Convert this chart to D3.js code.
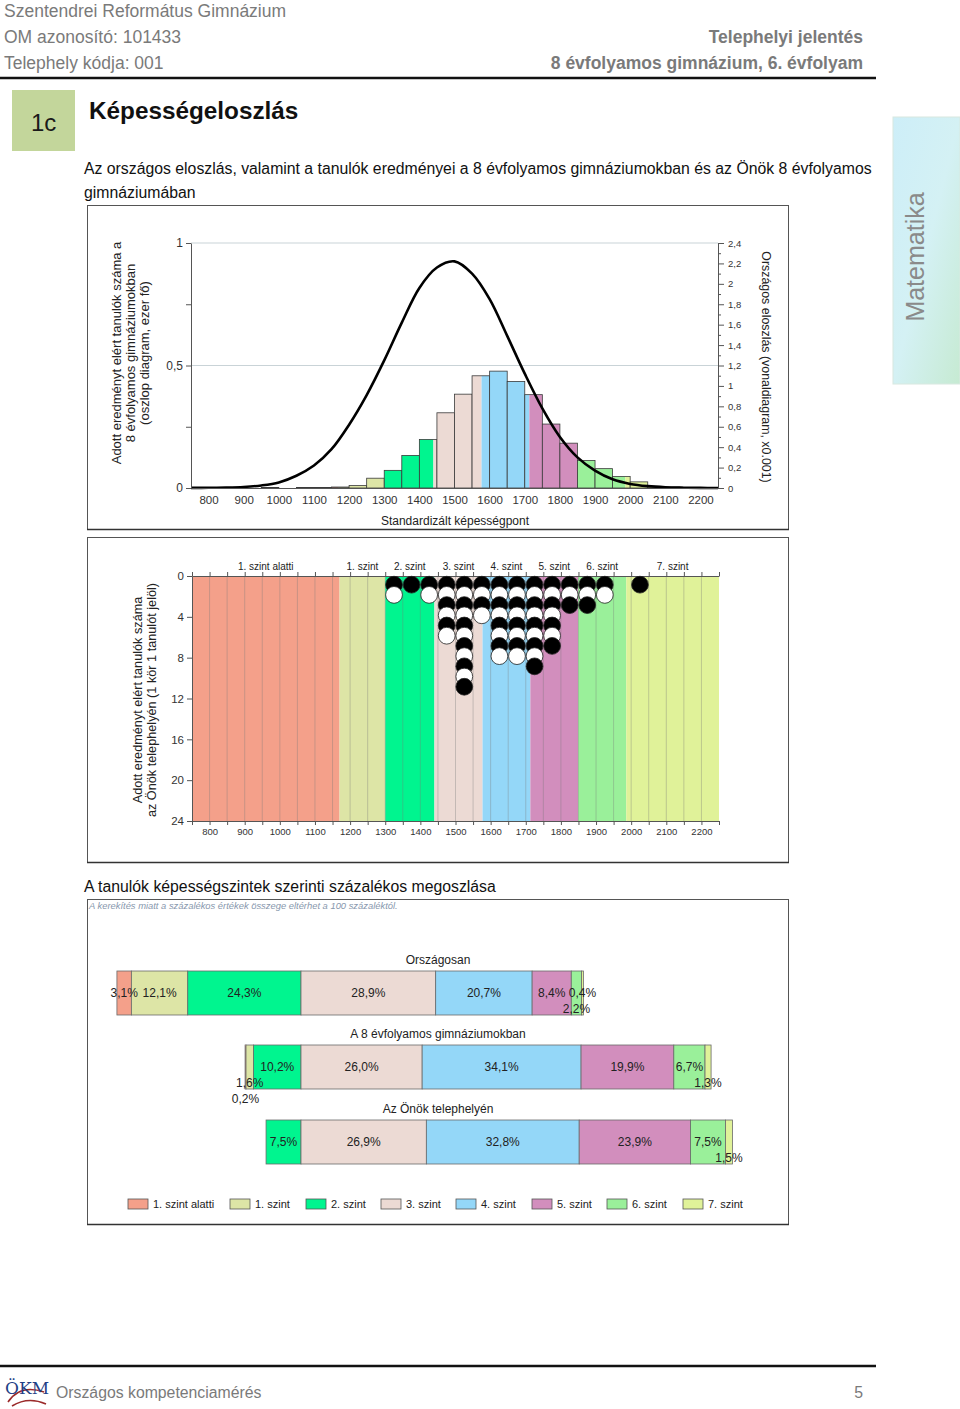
<!DOCTYPE html>
<head>
<meta charset="utf-8">
<style>
  body { margin: 0; background: #fff; }
  svg { display: block; font-family: "Liberation Sans", Arial, sans-serif; }
  .hdr { fill: #7a7a7a; font-size: 17.5px; }
  .hdr-b { fill: #7a7a7a; font-size: 17.5px; font-weight: bold; }
  .frame { fill: none; stroke: #555; stroke-width: 1; }
  .axis text { fill: #333; font-family: "Liberation Sans", Arial, sans-serif; }
  .axis path, .axis line { stroke: #555; }
  .title { fill: #222; font-size: 12px; }
</style>
<script src="https://d3js.org/d3.v7.min.js"></script>
</head>
<body>
<script>
// képességszintek
var levelNames = ["1. szint alatti", "1. szint", "2. szint", "3. szint", "4. szint", "5. szint", "6. szint", "7. szint"];
var levelColors = ["#f4a08a", "#dde5a6", "#00f58f", "#ecdad4", "#94d7f8", "#d28ebd", "#9af09a", "#e0f299"];
var levelBounds = [1170, 1300, 1440, 1577, 1713, 1849, 1986];

// 8 évfolyamos gimnáziumok (oszlop, ezer fő), 50 pontos sávok kezdete
var histStart = [800, 850, 900, 950, 1000, 1050, 1100, 1150, 1200, 1250, 1300, 1350, 1400, 1450,
                 1500, 1550, 1600, 1650, 1700, 1750, 1800, 1850, 1900, 1950, 2000, 2050, 2100, 2150];
var histValue = [0.002, 0, 0, 0.002, 0, 0.002, 0.002, 0.004, 0.01, 0.04, 0.072, 0.133, 0.198, 0.307,
                 0.383, 0.458, 0.477, 0.435, 0.381, 0.261, 0.183, 0.112, 0.079, 0.047, 0.025, 0.005, 0.004, 0.001];

// országos eloszlás (vonal, x0.001)
var curveX = [750, 800, 850, 900, 950, 1000, 1050, 1100, 1150, 1200, 1250, 1300, 1350, 1400, 1450, 1500,
              1550, 1600, 1650, 1700, 1750, 1800, 1850, 1900, 1950, 2000, 2050, 2100, 2150, 2200, 2250];
var curveY = [0.001, 0.002, 0.004, 0.01, 0.025, 0.055, 0.12, 0.22, 0.38, 0.62, 0.91, 1.25, 1.62, 1.96, 2.16, 2.22,
              2.10, 1.85, 1.49, 1.12, 0.78, 0.50, 0.30, 0.17, 0.085, 0.04, 0.018, 0.007, 0.003, 0.001, 0.0005];

// telephely tanulói (1 kör = 1 tanuló)
var dotBinStart = [1300, 1350, 1400, 1450, 1500, 1550, 1600, 1650, 1700, 1750, 1800, 1850, 1900, 1950, 2000];
var dotCount = [2, 1, 2, 6, 11, 4, 8, 8, 9, 7, 3, 3, 2, 0, 1];

// százalékos megoszlás
var groupNames = ["Országosan", "A 8 évfolyamos gimnáziumokban", "Az Önök telephelyén"];
var pctOrszagos = [3.1, 12.1, 24.3, 28.9, 20.7, 8.4, 2.2, 0.4];
var pctGimn = [0.2, 1.6, 10.2, 26.0, 34.1, 19.9, 6.7, 1.3];
var pctOnok = [0, 0, 7.5, 26.9, 32.8, 23.9, 7.5, 1.5];

var fmt = function(v) { return String(+v.toFixed(1)).replace(".", ","); };

var svg = d3.select("body").append("svg").attr("width", 960).attr("height", 1409);

// ---- fejléc
svg.append("text").attr("class", "hdr").attr("x", 4).attr("y", 17).text("Szentendrei Református Gimnázium");
svg.append("text").attr("class", "hdr").attr("x", 4).attr("y", 43).text("OM azonosító: 101433");
svg.append("text").attr("class", "hdr").attr("x", 4).attr("y", 69).text("Telephely kódja: 001");
svg.append("text").attr("class", "hdr-b").attr("x", 863).attr("y", 43).attr("text-anchor", "end").text("Telephelyi jelentés");
svg.append("text").attr("class", "hdr-b").attr("x", 863).attr("y", 69).attr("text-anchor", "end").text("8 évfolyamos gimnázium, 6. évfolyam");
svg.append("line").attr("x1", 0).attr("x2", 876).attr("y1", 78).attr("y2", 78).attr("stroke", "#111").attr("stroke-width", 2.5);

svg.append("rect").attr("x", 12).attr("y", 90).attr("width", 63).attr("height", 61).attr("fill", "#c3d69b");
svg.append("text").attr("x", 31).attr("y", 131).attr("font-size", 24).attr("fill", "#1a1a1a").text("1c");
svg.append("text").attr("x", 89).attr("y", 119).attr("font-size", 24.3).attr("font-weight", "bold").attr("fill", "#111").text("Képességeloszlás");

svg.append("text").attr("x", 84).attr("y", 174).attr("font-size", 15.8).attr("fill", "#111")
  .text("Az országos eloszlás, valamint a tanulók eredményei a 8 évfolyamos gimnáziumokban és az Önök 8 évfolyamos");
svg.append("text").attr("x", 84).attr("y", 198).attr("font-size", 15.8).attr("fill", "#111").text("gimnáziumában");

// oldalsó fül
var defs = svg.append("defs");
var grad = defs.append("linearGradient").attr("id", "tab").attr("x1", 0).attr("y1", 0).attr("x2", 1).attr("y2", 1);
grad.append("stop").attr("offset", "0%").attr("stop-color", "#cdeef8");
grad.append("stop").attr("offset", "50%").attr("stop-color", "#d4f1f4");
grad.append("stop").attr("offset", "100%").attr("stop-color", "#c6ead2");
svg.append("rect").attr("x", 893).attr("y", 117).attr("width", 67).attr("height", 267)
  .attr("fill", "url(#tab)").attr("stroke", "#d8e8e0");
svg.append("text").attr("transform", "translate(924,257) rotate(-90)").attr("text-anchor", "middle")
  .attr("font-size", 25).attr("fill", "#8a8a8a").text("Matematika");

function levelOf(v) {
  var i = 0;
  while (i < levelBounds.length && v >= levelBounds[i]) i++;
  return i;
}
function levelPieces(a, b) {
  var cuts = [a].concat(levelBounds.filter(function(t) { return t > a && t < b; }), [b]);
  return d3.pairs(cuts).map(function(p) { return { x0: p[0], x1: p[1], lvl: levelOf((p[0] + p[1]) / 2) }; });
}

// ---- 1. diagram: hisztogram + országos görbe
var x1 = d3.scaleLinear().domain([750, 2250]).range([191, 718]);
var yL = d3.scaleLinear().domain([0, 1]).range([488, 243]);
var yR = d3.scaleLinear().domain([0, 2.4]).range([488, 243]);
var c1 = svg.append("g");
c1.append("rect").attr("class", "frame").attr("x", 87.5).attr("y", 205.5).attr("width", 701).attr("height", 324);
c1.append("line").attr("x1", 87).attr("x2", 789).attr("y1", 529.5).attr("y2", 529.5).attr("stroke", "#333").attr("stroke-width", 1.5);

c1.selectAll(".grid").data([0.5, 1]).enter().append("line")
  .attr("x1", x1(750)).attr("x2", x1(2250))
  .attr("y1", function(d) { return yL(d); }).attr("y2", function(d) { return yL(d); })
  .attr("stroke", "#c9d3d7");

var bins = histStart.map(function(s, i) { return { s: s, v: histValue[i] }; }).filter(function(d) { return d.v > 0; });
var binG = c1.selectAll(".bin").data(bins).enter().append("g");
binG.each(function(d) {
  var g = d3.select(this);
  levelPieces(d.s, d.s + 50).forEach(function(p) {
    g.append("rect").attr("x", x1(p.x0)).attr("width", x1(p.x1) - x1(p.x0))
      .attr("y", yL(d.v)).attr("height", yL(0) - yL(d.v)).attr("fill", levelColors[p.lvl]);
  });
  g.append("rect").attr("x", x1(d.s)).attr("width", x1(d.s + 50) - x1(d.s))
    .attr("y", yL(d.v)).attr("height", yL(0) - yL(d.v))
    .attr("fill", "none").attr("stroke", "#3a3a3a").attr("stroke-width", 0.8);
});

var line = d3.line()
  .x(function(d, i) { return x1(curveX[i]); })
  .y(function(d) { return yR(d); })
  .curve(d3.curveCatmullRom);
c1.append("path").attr("d", line(curveY)).attr("fill", "none").attr("stroke", "#000").attr("stroke-width", 2.6);

c1.append("g").attr("class", "axis").attr("transform", "translate(0,488)")
  .call(d3.axisBottom(x1).tickValues(d3.range(800, 2201, 100)).tickSize(0).tickSizeOuter(0).tickPadding(8).tickFormat(d3.format("d")))
  .attr("font-size", 11.5)
  .select(".domain").attr("stroke", "#333");

c1.append("g").attr("class", "axis").attr("transform", "translate(191,0)")
  .call(d3.axisLeft(yL).tickValues([0, 0.25, 0.5, 0.75, 1]).tickSize(5).tickSizeOuter(0).tickPadding(3)
    .tickFormat(function(d) { return (d === 0.25 || d === 0.75) ? "" : fmt(d); }))
  .attr("font-size", 12)
  .select(".domain").attr("stroke", "#aaa");

var rAxis = c1.append("g").attr("class", "axis").attr("transform", "translate(718,0)")
  .call(d3.axisRight(yR).tickValues(d3.range(0, 25).map(function(i) { return i / 10; }))
    .tickSize(6).tickSizeOuter(0).tickPadding(4)
    .tickFormat(function(d) { return Math.round(d * 10) % 2 === 0 ? fmt(d) : ""; }))
  .attr("font-size", 9.5);
rAxis.selectAll(".tick line").attr("x2", function(d) { return Math.round(d * 10) % 2 === 0 ? 6 : 3; });
rAxis.selectAll(".tick text").attr("fill", "#555");

c1.append("text").attr("class", "title").style("font-size", "13px").attr("transform", "translate(121,353) rotate(-90)").attr("text-anchor", "middle")
  .selectAll("tspan").data(["Adott eredményt elért tanulók száma a", "8 évfolyamos gimnáziumokban", "(oszlop diagram, ezer fő)"])
  .enter().append("tspan").attr("x", 0).attr("y", function(d, i) { return i * 14; }).text(function(d) { return d; });
c1.append("text").attr("class", "title").style("font-size", "12.4px").attr("transform", "translate(762,367) rotate(90)").attr("text-anchor", "middle")
  .text("Országos eloszlás (vonaldiagram, x0.001)");
c1.append("text").attr("class", "title").attr("x", 455).attr("y", 525).attr("text-anchor", "middle")
  .text("Standardizált képességpont");

// ---- 2. diagram: telephely tanulói
var x2 = d3.scaleLinear().domain([750, 2250]).range([192, 719]);
var y2 = d3.scaleLinear().domain([0, 24]).range([576, 821]);
var c2 = svg.append("g");
c2.append("rect").attr("class", "frame").attr("x", 87.5).attr("y", 537.5).attr("width", 701).attr("height", 325);
c2.append("line").attr("x1", 87).attr("x2", 789).attr("y1", 862.5).attr("y2", 862.5).attr("stroke", "#333").attr("stroke-width", 1.5);

var bands = levelPieces(750, 2250);
c2.selectAll(".band").data(bands).enter().append("rect")
  .attr("x", function(d) { return x2(d.x0); }).attr("width", function(d) { return x2(d.x1) - x2(d.x0); })
  .attr("y", y2(0)).attr("height", y2(24) - y2(0))
  .attr("fill", function(d) { return levelColors[d.lvl]; });
c2.selectAll(".vgrid").data(d3.range(800, 2250, 50)).enter().append("line")
  .attr("x1", function(d) { return x2(d); }).attr("x2", function(d) { return x2(d); })
  .attr("y1", y2(0)).attr("y2", y2(24)).attr("stroke", "#777").attr("stroke-opacity", 0.35);

c2.selectAll(".lvl").data(bands).enter().append("text")
  .attr("x", function(d) { return x2((d.x0 + d.x1) / 2); }).attr("y", 570)
  .attr("text-anchor", "middle").attr("font-size", 10).attr("fill", "#222")
  .text(function(d) { return levelNames[d.lvl]; });

c2.append("g").attr("class", "axis").attr("transform", "translate(0,576)")
  .call(d3.axisTop(x2).tickValues(d3.range(750, 2251, 50)).tickSize(4).tickSizeOuter(0).tickFormat(""))
  .select(".domain").attr("stroke", "#222");
c2.append("g").attr("class", "axis").attr("transform", "translate(0,821)")
  .call(d3.axisBottom(x2).tickValues(d3.range(750, 2251, 50)).tickSize(4).tickSizeOuter(0).tickPadding(3)
    .tickFormat(function(d) { return (d % 100 === 0 && d >= 800 && d <= 2200) ? d : ""; }))
  .attr("font-size", 9.5);
c2.append("g").attr("class", "axis").attr("transform", "translate(192,0)")
  .call(d3.axisLeft(y2).tickValues(d3.range(0, 25, 4)).tickSize(5).tickSizeOuter(0).tickPadding(3))
  .attr("font-size", 11.5);

var dots = [];
dotBinStart.forEach(function(s, i) {
  for (var k = 1; k <= dotCount[i]; k++) dots.push({ x: s + 25, n: k });
});
c2.selectAll(".dot").data(dots).enter().append("circle")
  .attr("cx", function(d) { return x2(d.x); })
  .attr("cy", function(d) { return y2(d.n - 0.15); })
  .attr("r", 8.4)
  .attr("fill", function(d) { return d.n % 2 === 1 ? "#000" : "#fff"; })
  .attr("stroke", "#222").attr("stroke-width", 0.8);

c2.append("text").attr("class", "title").style("font-size", "12.7px").attr("transform", "translate(142,700) rotate(-90)").attr("text-anchor", "middle")
  .selectAll("tspan").data(["Adott eredményt elért tanulók száma", "az Önök telephelyén (1 kör 1 tanulót jelöl)"])
  .enter().append("tspan").attr("x", 0).attr("y", function(d, i) { return i * 14; }).text(function(d) { return d; });

// ---- 3. diagram: szintek szerinti megoszlás
svg.append("text").attr("x", 84).attr("y", 892).attr("font-size", 15.8).attr("fill", "#111")
  .text("A tanulók képességszintek szerinti százalékos megoszlása");
var c3 = svg.append("g");
c3.append("rect").attr("class", "frame").attr("x", 87.5).attr("y", 899.5).attr("width", 701).attr("height", 325);
c3.append("line").attr("x1", 87).attr("x2", 789).attr("y1", 1224.5).attr("y2", 1224.5).attr("stroke", "#333").attr("stroke-width", 1.5);
c3.append("text").attr("x", 89).attr("y", 909).attr("font-size", 9.4).attr("font-style", "italic").attr("fill", "#8797ad")
  .text("A kerekítés miatt a százalékos értékek összege eltérhet a 100 százaléktól.");

var xP = d3.scaleLinear().domain([0, 100]).range([301, 767]);
var groupTop = [971, 1045, 1120];
var barH = 44;
var labelRows = [[0, 0, 0, 0, 0, 0, 1, 0], [2, 1, 0, 0, 0, 0, 0, 1], [0, 0, 0, 0, 0, 0, 0, 1]];
[pctOrszagos, pctGimn, pctOnok].forEach(function(pct, gi) {
  var offset = pct[0] + pct[1] + pct[2];
  var cum = d3.cumsum(pct);
  var segs = pct.map(function(v, i) { return { v: v, lvl: i, a: cum[i] - v - offset, b: cum[i] - offset }; })
    .filter(function(d) { return d.v > 0; });
  var g = c3.append("g");
  g.append("text").attr("class", "title").attr("x", 438).attr("y", groupTop[gi] - 7).attr("text-anchor", "middle")
    .text(groupNames[gi]);
  g.selectAll("rect").data(segs).enter().append("rect")
    .attr("x", function(d) { return xP(d.a); }).attr("width", function(d) { return xP(d.b) - xP(d.a); })
    .attr("y", groupTop[gi]).attr("height", barH)
    .attr("fill", function(d) { return levelColors[d.lvl]; })
    .attr("stroke", "#6a6a6a").attr("stroke-width", 0.8);
  g.selectAll(".lbl").data(segs).enter().append("text")
    .attr("x", function(d) { return (xP(d.a) + xP(d.b)) / 2; })
    .attr("y", function(d) { return groupTop[gi] + barH / 2 + 4 + 16 * labelRows[gi][d.lvl]; })
    .attr("text-anchor", "middle").attr("font-size", 12).attr("fill", "#222")
    .text(function(d) { return d.v.toFixed(1).replace(".", ",") + "%"; });
});

var legendX = [128, 230, 306, 381, 456, 532, 607, 683];
var leg = c3.selectAll(".leg").data(levelNames).enter().append("g")
  .attr("transform", function(d, i) { return "translate(" + legendX[i] + ",1199)"; });
leg.append("rect").attr("width", 20).attr("height", 10)
  .attr("fill", function(d, i) { return levelColors[i]; }).attr("stroke", "#555").attr("stroke-width", 0.8);
leg.append("text").attr("x", 25).attr("y", 9).attr("font-size", 11).attr("fill", "#222").text(function(d) { return d; });

// ---- lábléc
svg.append("line").attr("x1", 0).attr("x2", 876).attr("y1", 1366).attr("y2", 1366).attr("stroke", "#111").attr("stroke-width", 2.5);
svg.append("path").attr("d", "M8,1402 Q20,1384 44,1392 M12,1406 Q28,1396 46,1404")
  .attr("fill", "none").attr("stroke", "#9b2a2a").attr("stroke-width", 1.6);
svg.append("text").attr("x", 5).attr("y", 1394).attr("font-family", "DejaVu Serif, serif").attr("font-size", 17)
  .attr("fill", "#1f3f86").text("ÖKM");
svg.append("text").attr("x", 56).attr("y", 1398).attr("font-size", 15.8).attr("fill", "#7a7a7a").text("Országos kompetenciamérés");
svg.append("text").attr("x", 863).attr("y", 1398).attr("text-anchor", "end").attr("font-size", 15.8).attr("fill", "#7a7a7a").text("5");
</script>
</body>
</html>
